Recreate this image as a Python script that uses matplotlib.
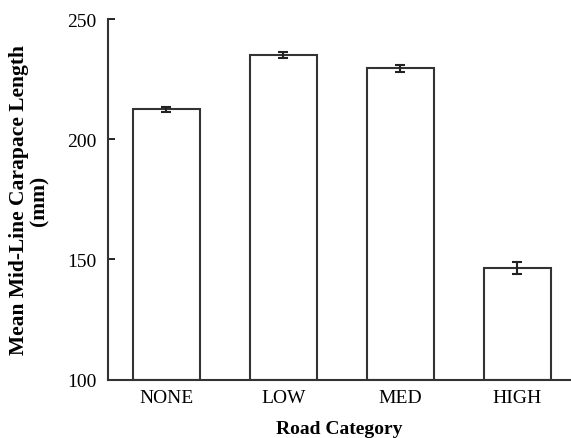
import matplotlib
matplotlib.use('Agg')
import matplotlib.pyplot as plt
import numpy as np

plt.rcParams['font.family'] = 'Liberation Serif'

categories = ['NONE', 'LOW', 'MED', 'HIGH']
means = [212.5, 235.2, 229.5, 146.4]
errors = [1.0, 1.3, 1.5, 2.5]

fig = plt.figure(figsize=(5.71, 4.39), dpi=100)
ax = fig.add_axes([0.189, 0.133, 0.811, 0.821])

x = np.arange(len(categories))
ax.bar(x, np.array(means) - 100, bottom=100, width=0.575, color='white',
       edgecolor='#333333', linewidth=1.5)
ax.errorbar(x, means, yerr=errors, fmt='none', ecolor='#222222',
            elinewidth=1.5, capsize=3.5, capthick=1.5)

ax.set_ylim(100, 250)
ax.set_xlim(-0.5, 3.46)
ax.set_yticks([100, 150, 200, 250])
ax.set_xticks(x)
ax.set_xticklabels(categories)
ax.tick_params(axis='y', direction='in', length=5, width=1.2, labelsize=14, pad=8)
ax.tick_params(axis='x', length=0, labelsize=14, pad=7)

for s in ['top', 'right']:
    ax.spines[s].set_visible(False)
for s in ['left', 'bottom']:
    ax.spines[s].set_linewidth(1.5)
    ax.spines[s].set_color('#333333')

ax.set_xlabel('Road Category', fontsize=14, fontweight='bold', labelpad=10)
ax.set_ylabel('Mean Mid-Line Carapace Length\n(mm)', fontsize=15.5,
              fontweight='bold', labelpad=13, linespacing=1.0)

fig.savefig('out.png', dpi=100)
